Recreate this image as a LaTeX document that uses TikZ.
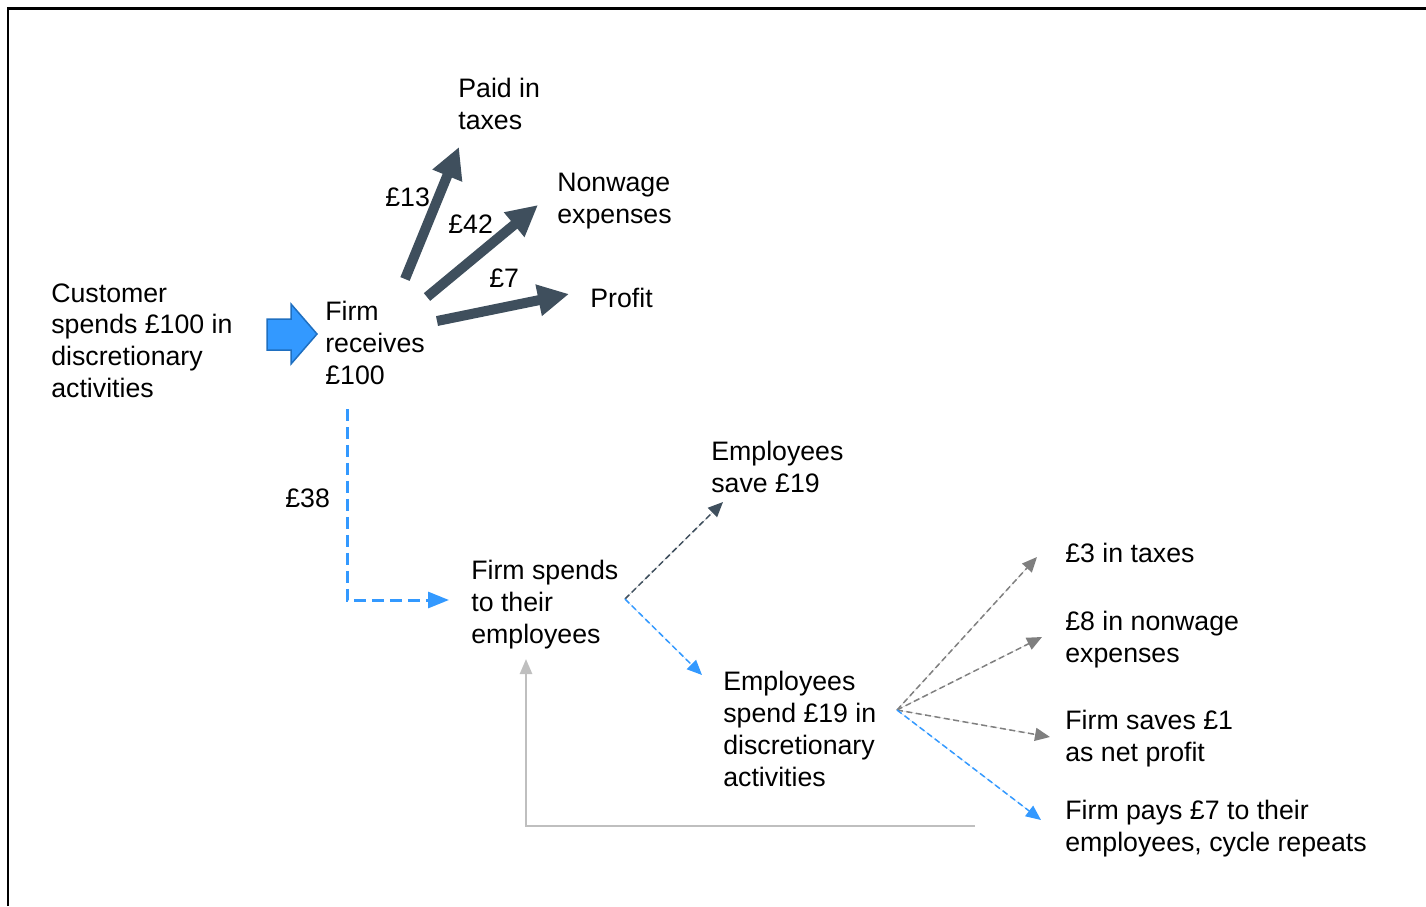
\documentclass[tikz,border=0pt]{standalone}
\usepackage{fontspec}
\setmainfont{Liberation Sans}
\usetikzlibrary{arrows.meta, positioning}
\definecolor{slate}{HTML}{3F4F5D}
\definecolor{flowblue}{HTML}{3399FF}
\definecolor{edgeblue}{HTML}{1F6FC0}
\definecolor{midgrey}{HTML}{7F7F7F}
\definecolor{lightgrey}{HTML}{BFBFBF}
\tikzset{
  txt/.style = {anchor=north west, align=left, inner sep=0pt, font=\fontsize{15.2pt}{18.2pt}\selectfont},
  bigflow/.style = {draw=slate, line width=0.2cm, -{Triangle[length=0.62cm, width=0.6cm]}},
  bluedash/.style = {draw=flowblue, line width=0.06cm, dash pattern=on 0.24cm off 0.12cm, -{Triangle[length=0.42cm, width=0.32cm]}},
  thindash/.style = {line width=0.03cm, dash pattern=on 0.12cm off 0.07cm, -{Triangle[length=0.3cm, width=0.26cm]}},
  backline/.style = {draw=lightgrey, line width=0.05cm, -{Triangle[length=0.3cm, width=0.24cm]}}
}

\begin{document}
\begin{tikzpicture}[x=0.02cm, y=-0.02cm]
  \useasboundingbox (0,0) rectangle (1426,906);

  % Frame
  \draw[line width=0.06cm] (8,906) -- (8,8.5) -- (1426,8.5);

  % Place the nodes
  \node [txt] (customer) at (51,283) {Customer\\spends £100 in\\discretionary\\activities};
  \node [txt] (firm) at (325,301) {Firm\\receives\\£100};
  \node [txt] (taxes) at (458,78) {Paid in\\taxes};
  \node [txt] (nonwage) at (557,173) {Nonwage\\expenses};
  \node [txt] (profit) at (590,288) {Profit};
  \node [txt] (lbltax) at (385,187) {£13};
  \node [txt] (lblnonwage) at (448,214) {£42};
  \node [txt] (lblprofit) at (489,268) {£7};
  \node [txt] (lblwages) at (285,488) {£38};
  \node [txt] (saves) at (711,441) {Employees\\save £19};
  \node [txt] (spends) at (471,560) {Firm spends\\to their\\employees};
  \node [txt] (respend) at (723,671) {Employees\\spend £19 in\\discretionary\\activities};
  \node [txt] (smalltax) at (1065,543) {£3 in taxes};
  \node [txt] (smallnonwage) at (1065,611) {£8 in nonwage\\expenses};
  \node [txt] (netprofit) at (1065,710) {Firm saves £1\\as net profit};
  \node [txt] (repeats) at (1065,800) {Firm pays £7 to their\\employees, cycle repeats};

  % Arrow ends
  \coordinate (taxtail) at (405,279);
  \coordinate (taxtip) at (459,147);
  \coordinate (nonwagetail) at (427,297);
  \coordinate (nonwagetip) at (538,205);
  \coordinate (profittail) at (437,321);
  \coordinate (profittip) at (569,294);
  \coordinate (wagetop) at (347,409);
  \coordinate (wagecorner) at (347,600);
  \coordinate (wagetip) at (449,600);
  \coordinate (split) at (625,599);
  \coordinate (savetip) at (723,502);
  \coordinate (spendtip) at (702,675);
  \coordinate (fan) at (897,710);
  \coordinate (taxsmalltip) at (1037,557);
  \coordinate (nonwagesmalltip) at (1042,637);
  \coordinate (profitsmalltip) at (1050,737);
  \coordinate (repeattip) at (1041,820);
  \coordinate (loopstart) at (975,826);
  \coordinate (looptip) at (526,659);

  % Customer spending enters the firm
  \fill[flowblue, draw=edgeblue, line width=0.03cm]
    (267,319) -- (291,319) -- (291,304) -- (317,334) -- (291,364) -- (291,350) -- (267,350) -- cycle;

  % Split of the firm's receipts
  \draw [bigflow] (taxtail) -- (taxtip);
  \draw [bigflow] (nonwagetail) -- (nonwagetip);
  \draw [bigflow] (profittail) -- (profittip);

  % Wages paid to employees
  \draw [bluedash] (wagetop) -- (wagecorner) -- (wagetip);

  % What the employees do with it
  \draw [thindash, draw=slate, fill=slate] (split) -- (savetip);
  \draw [thindash, draw=flowblue, fill=flowblue] (split) -- (spendtip);

  % Second round
  \draw [thindash, draw=midgrey, fill=midgrey] (fan) -- (taxsmalltip);
  \draw [thindash, draw=midgrey, fill=midgrey] (fan) -- (nonwagesmalltip);
  \draw [thindash, draw=midgrey, fill=midgrey] (fan) -- (profitsmalltip);
  \draw [thindash, draw=flowblue, fill=flowblue] (fan) -- (repeattip);

  % Cycle repeats
  \draw [backline] (loopstart) -| (looptip);

\end{tikzpicture}
\end{document}
